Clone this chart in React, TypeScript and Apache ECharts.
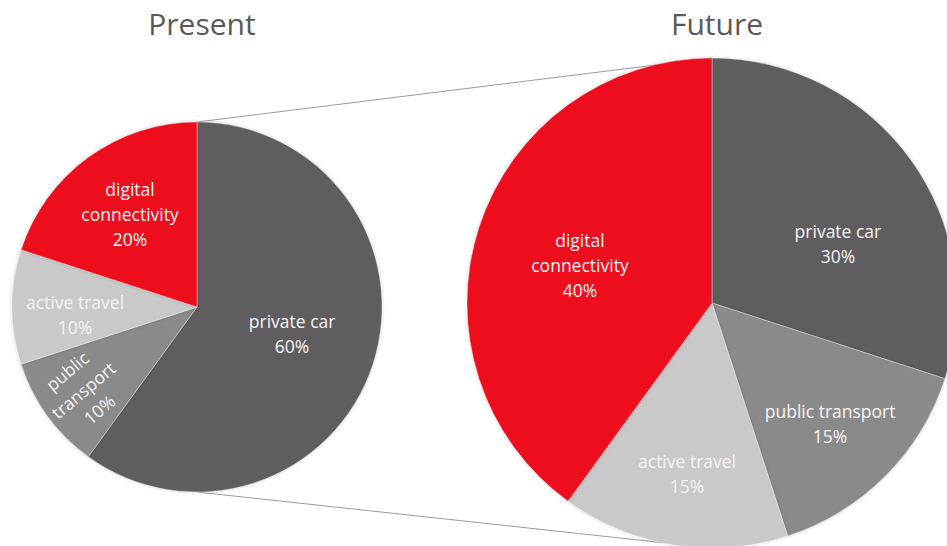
import React, { useEffect, useRef } from "react";
import * as echarts from "echarts";

// ---- data ----
const categories = ["private car", "public transport", "active travel", "digital connectivity"];
const presentValues = [60, 10, 10, 20];
const futureValues = [30, 15, 15, 40];
const chartTitles = ["Present", "Future"];

// ---- styles / layout (not data) ----
const sliceColors = ["#5e5d5e", "#8a8a8a", "#c9c9c9", "#ee0b1c"];
const presentLabelNames = ["private car", "public\ntransport", "active travel", "digital\nconnectivity"];
const futureLabelNames = ["private car", "public transport", "active travel", "digital\nconnectivity"];
const presentCenter = [197, 307];
const presentRadius = 185;
const futureCenter = [712, 303];
const futureRadius = 245;
// label anchor offsets as fraction of radius
const presentLabelPos = [[0.514, 0.141], [-0.616, 0.449], [-0.659, 0.043], [-0.362, -0.503]];
const futureLabelPos = [[0.514, -0.241], [0.482, 0.49], [-0.102, 0.694], [-0.539, -0.155]];
const presentLabelRotate = [0, 40, 0, 0];

const FONT = "'Open Sans', 'Noto Sans', sans-serif";

function makeSeries(
  name: string,
  values: number[],
  labelNames: string[],
  center: number[],
  radius: number,
  labelPos: number[][],
  rotations: number[] | null
) {
  return {
    type: "pie",
    name,
    center,
    radius,
    startAngle: 90,
    clockwise: true,
    z: 2,
    silent: true,
    itemStyle: {
      borderColor: "rgba(255,255,255,0.35)",
      borderWidth: 1,
      shadowBlur: 3,
      shadowColor: "rgba(0,0,0,0.25)",
    },
    label: {
      show: true,
      position: "inside",
      color: "#f4f4f4",
      fontFamily: FONT,
      fontSize: 17.5,
      lineHeight: 25,
      align: "center",
      formatter: (p: any) => `${labelNames[p.dataIndex]}\n${p.value}%`,
    },
    labelLine: { show: false },
    labelLayout: (p: any) => {
      const pos = labelPos[p.dataIndex];
      return { x: center[0] + pos[0] * radius, y: center[1] + pos[1] * radius };
    },
    data: values.map((v, i) => ({
      name: categories[i],
      value: v,
      itemStyle: { color: sliceColors[i] },
      label: rotations && rotations[i] ? { rotate: rotations[i] } : {},
    })),
  };
}

export default function App() {
  const ref = useRef<HTMLDivElement>(null);
  useEffect(() => {
    if (!ref.current) return;
    const chart = echarts.init(ref.current, null, { renderer: "svg" });
    const topA = [presentCenter[0], presentCenter[1] - presentRadius];
    const topB = [futureCenter[0], futureCenter[1] - futureRadius];
    const botA = [presentCenter[0], presentCenter[1] + presentRadius];
    const botB = [futureCenter[0], futureCenter[1] + futureRadius];
    chart.setOption({
      animation: false,
      backgroundColor: "#ffffff",
      title: [
        {
          text: chartTitles[0],
          left: presentCenter[0],
          top: 3,
          textAlign: "center",
          textStyle: { fontFamily: FONT, fontSize: 30, fontWeight: "normal", color: "#595959" },
        },
        {
          text: chartTitles[1],
          left: futureCenter[0],
          top: 3,
          textAlign: "center",
          textStyle: { fontFamily: FONT, fontSize: 30, fontWeight: "normal", color: "#595959" },
        },
      ],
      graphic: {
        elements: [
          {
            type: "line",
            z: 0,
            silent: true,
            shape: { x1: topA[0], y1: topA[1], x2: topB[0], y2: topB[1] },
            style: { stroke: "#9a9a9a", lineWidth: 1 },
          },
          {
            type: "line",
            z: 0,
            silent: true,
            shape: { x1: botA[0], y1: botA[1], x2: botB[0], y2: botB[1] },
            style: { stroke: "#9a9a9a", lineWidth: 1 },
          },
        ],
      },
      series: [
        makeSeries("Present", presentValues, presentLabelNames, presentCenter, presentRadius, presentLabelPos, presentLabelRotate),
        makeSeries("Future", futureValues, futureLabelNames, futureCenter, futureRadius, futureLabelPos, null),
      ],
    });
    return () => chart.dispose();
  }, []);
  return (
    <div
      ref={ref}
      style={{ position: "fixed", left: 0, top: 0, width: 947, height: 546, background: "#fff" }}
    />
  );
}
